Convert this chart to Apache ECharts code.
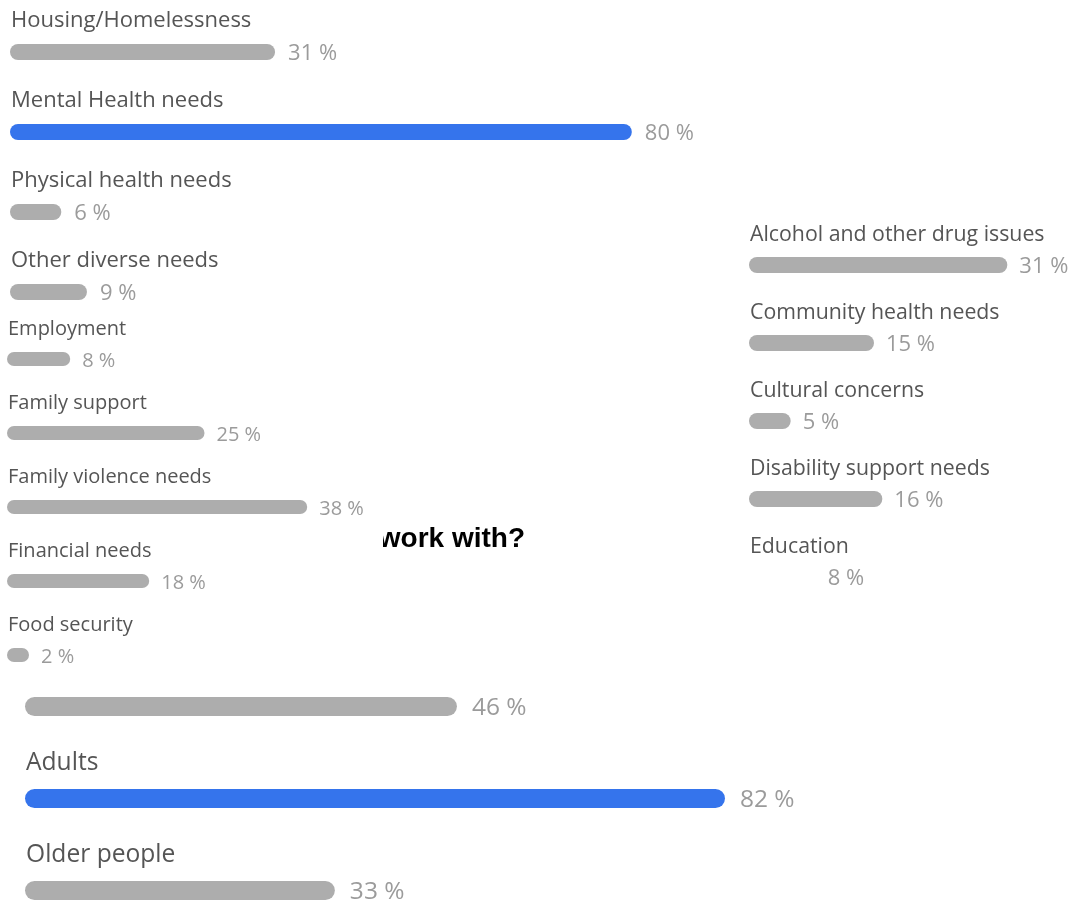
<!DOCTYPE html>
<html>
<head>
<meta charset="utf-8">
<script src="https://cdn.jsdelivr.net/npm/echarts@6/dist/echarts.min.js"></script>
<style>
  html, body { margin: 0; padding: 0; background: #fff; }
  #chart { width: 1068px; height: 901px; }
</style>
</head>
<body>
<div id="chart"></div>
<script>
// Survey results, percentage of respondents
const needsA = ['Housing/Homelessness', 'Mental Health needs', 'Physical health needs', 'Other diverse needs'];
const valuesA = [31, 80, 6, 9];

const needsB = ['Employment', 'Family support', 'Family violence needs', 'Financial needs', 'Food security'];
const valuesB = [8, 25, 38, 18, 2];

const needsC = ['Alcohol and other drug issues', 'Community health needs', 'Cultural concerns', 'Disability support needs', 'Education'];
const valuesC = [31, 15, 5, 16, 8];

const groupsD = ['', 'Adults', 'Older people'];
const valuesD = [46, 82, 33];

const titleText = 'work with?';

// Layout of each block of bars: first row centre, row pitch, value-axis length and range
const panels = [
  { cats: needsA, vals: valuesA, left: 10, first: 52, rowH: 80, width: 855, max: 100, hlMax: 110,
    barW: 16, minLen: 0, font: 22, valFont: 22, nameDy: -23, gap: 13, highlight: 'Mental Health needs' },
  { cats: needsB, vals: valuesB, left: 7, first: 359, rowH: 74, width: 790, max: 100, hlMax: 110,
    barW: 14, minLen: 22, font: 20, valFont: 20, nameDy: -22.5, gap: 12, highlight: null },
  { cats: needsC, vals: valuesC, left: 749, first: 265, rowH: 78, width: 300, max: 36, hlMax: 36,
    barW: 16, minLen: 0, font: 21.3, valFont: 22, nameDy: -22.5, gap: 12, highlight: null, unfilled: ['Education'] },
  { cats: groupsD, vals: valuesD, left: 25, first: 706.5, rowH: 92, width: 939, max: 100, hlMax: 110,
    barW: 19, minLen: 0, font: 24.6, valFont: 24.5, nameDy: -26, gap: 15, highlight: 'Adults' }
];

const FONT = '"Open Sans", "Noto Sans", sans-serif';
const GREY = '#adadad';
const BLUE = '#3574ec';
const NAME_COLOR = '#555555';
const VALUE_COLOR = '#9b9b9b';

const grid = [], xAxis = [], yAxis = [], series = [];

panels.forEach((p, i) => {
  const n = p.cats.length;
  grid.push({ left: p.left, top: p.first, width: p.width, height: p.rowH * (n - 1), containLabel: false });
  const regAxis = xAxis.length;
  xAxis.push({ type: 'value', gridIndex: i, min: 0, max: p.max, show: false });
  const hlAxis = xAxis.length;
  xAxis.push({ type: 'value', gridIndex: i, min: 0, max: p.hlMax, show: false });
  yAxis.push({ type: 'category', gridIndex: i, data: p.cats, inverse: true, boundaryGap: false, show: false });

  const unfilled = new Set(p.unfilled || []);
  const common = {
    type: 'bar', yAxisIndex: i, barWidth: p.barW, barGap: '-100%',
    barMinHeight: p.minLen, clip: false, silent: true, animation: false
  };

  // row names above each bar
  series.push(Object.assign({}, common, {
    xAxisIndex: regAxis,
    data: p.vals,
    itemStyle: { color: 'rgba(0,0,0,0)' },
    label: {
      show: true, position: [1, p.nameDy], formatter: '{b}',
      align: 'left', verticalAlign: 'middle',
      fontFamily: FONT, fontSize: p.font, color: NAME_COLOR
    }
  }));

  const valueLabel = {
    show: true, position: 'right', distance: p.gap, offset: [0, 2], formatter: '{c} %',
    fontFamily: FONT, fontSize: p.valFont, color: VALUE_COLOR
  };

  // regular bars
  series.push(Object.assign({}, common, {
    xAxisIndex: regAxis,
    data: p.vals.map((v, k) => {
      if (p.cats[k] === p.highlight) return '-';
      if (unfilled.has(p.cats[k])) return { value: v, itemStyle: { color: 'rgba(0,0,0,0)' } };
      return v;
    }),
    itemStyle: { color: GREY, borderRadius: p.barW / 2 },
    label: valueLabel
  }));

  // highlighted bar
  series.push(Object.assign({}, common, {
    xAxisIndex: hlAxis,
    data: p.vals.map((v, k) => (p.cats[k] === p.highlight ? v : '-')),
    itemStyle: { color: BLUE, borderRadius: p.barW / 2 },
    label: valueLabel
  }));
});

const chart = echarts.init(document.getElementById('chart'), null, { renderer: 'canvas' });
chart.setOption({
  backgroundColor: '#ffffff',
  animation: false,
  grid, xAxis, yAxis, series,
  graphic: [
    {
      type: 'text', x: 525, y: 539, z: 10,
      style: {
        text: titleText, align: 'right', verticalAlign: 'middle',
        font: 'bold 28px "Liberation Sans", Arial, sans-serif', fill: '#000000'
      }
    },
    {
      type: 'rect', z: 11,
      shape: { x: 340, y: 520, width: 43, height: 38 },
      style: { fill: '#ffffff' }
    }
  ]
});
</script>
</body>
</html>
